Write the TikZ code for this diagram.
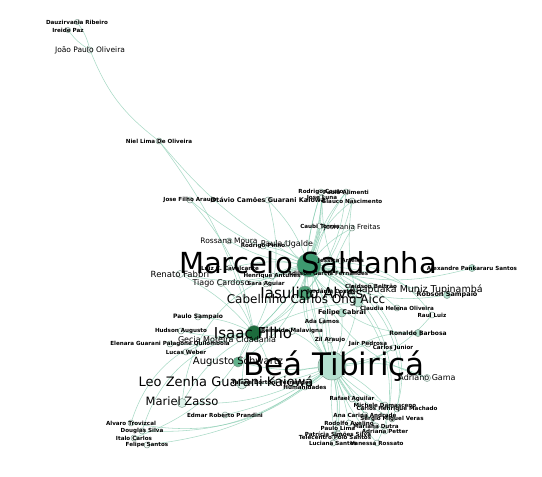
\documentclass[tikz,border=0pt]{standalone}
\usepackage{fontspec}
\setmainfont{DejaVu Sans}
\definecolor{edgegreen}{RGB}{132,202,174}
\definecolor{hubgreen}{RGB}{62,154,112}
\definecolor{darkhub}{RGB}{28,108,60}
\definecolor{midgreen}{RGB}{78,162,120}
\definecolor{softgreen}{RGB}{98,178,140}
\definecolor{mint}{RGB}{180,224,207}
\definecolor{palemint}{RGB}{222,242,234}
\definecolor{dotfill}{RGB}{246,251,249}
\definecolor{rim}{RGB}{125,155,142}
\pgfdeclarelayer{edges}
\pgfdeclarelayer{labels}
\pgfsetlayers{edges,main,labels}

\begin{document}
\begin{tikzpicture}[x=1pt, y=-1pt,
  dot/.style={circle, draw=rim, line width=0.5pt, fill=#1, inner sep=0pt},
  tag/.style={font=\fontsize{#1}{#1}\selectfont\ifdim#1pt<7pt\bfseries\fi, inner sep=0pt},
  link/.style={draw=edgegreen, line width=0.55pt, opacity=0.7}]

\useasboundingbox (0,0) rectangle (542,477);

% People, circle and name at the same spot
\foreach \id/\x/\y/\d/\c/\fs/\txt in {
  dauz/77/22/5/dotfill/5.6/Dauzirvania Ribeiro,
  ireide/68/30/5/dotfill/5.6/Ireide Paz,
  joao/90/50/6/dotfill/7.5/João Paulo Oliveira,
  niel/159/141/6/dotfill/5.6/Niel Lima De Oliveira,
  josef/190/200/6/dotfill/5.6/Jose Filho Araujo,
  otavio/268/200/6/dotfill/6.5/Otávio Camões Guarani Kaiowá,
  rodrigo/321/192/6/dotfill/5.6/Rodrigo Couto,
  alimenti/346/192/6/dotfill/5.6/Paulo Alimenti,
  luna/322/198/6/dotfill/5.6/Jose Luna,
  nascim/352/201/6/dotfill/5.6/Glauco Nascimento,
  caubi/320/226/6/dotfill/5.6/Caubi Torres,
  josivania/352/228/6/dotfill/7/Josivania Freitas,
  rossana/229/241/6/dotfill/7.5/Rossana Moura,
  rpinho/263/246/6/dotfill/5.6/Rodrigo Pinho,
  ugalde/287/244/6/dotfill/8/Paula Ugalde,
  cavalc/230/268/6/dotfill/5.6/Luiz C. Cavalcante,
  alexandre/472/268/7/mint/5.6/Alexandre Pankararu Santos,
  renato/180/274/7/dotfill/8.5/Renato Fabbri,
  henrique/272/276/6/dotfill/5.6/Henrique Antunes,
  adilson/328/273/6/dotfill/5.6/Adilson Garcia Fernandes,
  jessica/341/261/6/dotfill/5.6/Jessica Arteles,
  tiago/221/283/7/dotfill/8/Tiago Cardoso,
  sara/266/284/6/dotfill/5.6/Sara Aguiar,
  cleidson/371/286/6/dotfill/5.6/Cleidson Beltrão,
  anapuaka/416/290/7/dotfill/9.5/Anapuaka Muniz Tupinambá,
  robson/447/295/7/mint/6.5/Robson Sampaio,
  jordania/330/292/6/dotfill/5.6/Jordânia Costa,
  claudia/397/308/6/dotfill/5.6/Claudia Helena Oliveira,
  raul/432/315/6/dotfill/5.6/Raul Luiz,
  felipec/342/313/8/mint/6.5/Felipe Cabral,
  ada/322/321/6/dotfill/5.6/Ada Lamos,
  ronaldo/418/333/7/mint/6/Ronaldo Barbosa,
  paulos/198/317/6/dotfill/6/Paulo Sampaio,
  hudson/181/331/6/dotfill/5.6/Hudson Augusto,
  reinaldo/292/331/7/dotfill/5.6/Reinaldo Malavigna,
  gecia/227/340/6/dotfill/8/Gecia Moreira Cidadania,
  elenara/170/344/6/dotfill/5.6/Elenara Guarani Palagone Quilombola,
  lucas/186/352/6/dotfill/5.6/Lucas Weber,
  zil/330/340/6/dotfill/5.6/Zil Araujo,
  jair/368/344/6/dotfill/5.6/Jair Pedrosa,
  carlosj/393/348/6/dotfill/5.6/Carlos Junior,
  adriano/427/378/7/dotfill/8/Adriano Gama,
  taiane/272/382/6/dotfill/5.6/Taiane Bortoni Fernandes,
  humanid/305/387/6/dotfill/5.6/Humanidades,
  edmar/225/415/6/dotfill/5.6/Edmar Roberto Prandini,
  rafael/352/399/6/dotfill/5.6/Rafael Aguilar,
  michele/385/405/6/dotfill/5.6/Michele Damasceno,
  carlosh/397/409/6/dotfill/5.6/Carlos Henrique Machado,
  ana/365/415/6/dotfill/5.6/Ana Carina Andrade,
  sergio/392/419/6/dotfill/5.6/Sérgio Miguel Veras,
  rodolfo/349/423/6/dotfill/5.6/Rodolfo Avelino,
  mariana/376/426/6/dotfill/5.6/Mariana Dutra,
  paulol/338/428/6/dotfill/5.6/Paulo Lima,
  petter/385/431/6/dotfill/5.6/Adriana Petter,
  patricia/338/434/6/dotfill/5.6/Patrícia Simões Silva,
  telec/335/437/6/dotfill/5.6/Telecentro Polo Santos,
  luciana/333/443/6/dotfill/5.6/Luciana Santos,
  rossato/377/443/6/dotfill/5.6/Vanessa Rossato,
  alvaro/131/423/6/dotfill/5.6/Alvaro Trovizcal,
  douglas/142/431/6/dotfill/5.6/Douglas Silva,
  italo/134/438/6/dotfill/5.6/Italo Carlos,
  felipes/147/445/6/dotfill/5.6/Felipe Santos}
{
  \node[dot=\c, minimum size=\d pt] (\id) at (\x,\y) {};
  \begin{pgfonlayer}{labels}
    \node[tag=\fs] (\id-t) at (\x,\y) {\txt};
  \end{pgfonlayer}
}

% Hubs
\node[dot=hubgreen, minimum size=24pt] (marcelo) at (309,265) {};
\node[dot=mint, minimum size=28pt] (bea) at (332,366) {};
\node[dot=darkhub, minimum size=15pt] (isaac) at (254,333) {};
\node[dot=midgreen, minimum size=14pt] (iasulino) at (305,293) {};
\node[dot=mint, minimum size=10pt] (cabelinho) at (358,302) {};
\node[dot=softgreen, minimum size=10pt] (augusto) at (238,362) {};
\node[dot=palemint, minimum size=10pt] (leo) at (242,384) {};
\node[dot=palemint, minimum size=9pt] (mariel) at (182,403) {};
\begin{pgfonlayer}{labels}
  \node[tag=29] (marcelo-t) at (308,263) {Marcelo Saldanha};
  \node[tag=31] (bea-t) at (334,366) {Beá Tibiriçá};
  \node[tag=15] (isaac-t) at (253,333) {Isaac Filho};
  \node[tag=15] (iasulino-t) at (312,293) {Iasulino Alves};
  \node[tag=12] (cabelinho-t) at (306,300) {Cabelinho Carlos Ong Aicc};
  \node[tag=10] (augusto-t) at (238,362) {Augusto Schwartz};
  \node[tag=13] (leo-t) at (226,381) {Leo Zenha Guarani Kaiowá};
  \node[tag=11.5] (mariel-t) at (182,401) {Mariel Zasso};
\end{pgfonlayer}

% Connections
\begin{pgfonlayer}{edges}
\foreach \a/\b/\k in {
  dauz/joao/10, ireide/joao/-10, joao/niel/-15, niel/isaac/10, niel/marcelo/-10,
  josef/isaac/15, josef/marcelo/-10, otavio/marcelo/10, otavio/isaac/20,
  rodrigo/marcelo/10, alimenti/marcelo/-10, luna/marcelo/5, nascim/marcelo/-15,
  caubi/marcelo/10, josivania/marcelo/-10, rodrigo/bea/-20, alimenti/iasulino/15,
  nascim/cabelinho/-10, luna/isaac/20, caubi/isaac/15, josivania/bea/-20,
  rodrigo/iasulino/-8, luna/cabelinho/-18, nascim/iasulino/12, alimenti/bea/-28,
  rossana/marcelo/-10, rpinho/marcelo/10, ugalde/marcelo/-10, cavalc/marcelo/10,
  renato/marcelo/-15, renato/isaac/10, henrique/marcelo/10, adilson/marcelo/-10,
  jessica/marcelo/10, tiago/marcelo/-10, tiago/isaac/10, sara/marcelo/10,
  cleidson/marcelo/-10, jordania/marcelo/10, iasulino/marcelo/10, cabelinho/marcelo/-15,
  isaac/marcelo/-20, bea/marcelo/25, bea/marcelo/-10, alexandre/marcelo/15,
  anapuaka/marcelo/-10, robson/marcelo/20, claudia/marcelo/-15, raul/bea/20,
  ronaldo/bea/-20, ronaldo/marcelo/30, raul/marcelo/-30, felipec/bea/10, ada/bea/-10,
  zil/bea/10, jair/bea/-10, carlosj/bea/15, adriano/bea/-15, adriano/marcelo/25,
  marcelo/carlosh/40, marcelo/sergio/50, marcelo/petter/35, marcelo/rossato/45,
  paulos/isaac/10, hudson/isaac/-10, gecia/isaac/10, elenara/isaac/-10, lucas/isaac/10,
  reinaldo/isaac/-10, reinaldo/bea/10, augusto/bea/-10, augusto/isaac/10,
  augusto/marcelo/-20, leo/bea/-10, leo/isaac/10, mariel/bea/-15, mariel/isaac/15,
  edmar/bea/-10, taiane/bea/10, humanid/bea/-10, taiane/isaac/-10,
  alvaro/bea/-25, douglas/bea/-20, italo/isaac/-20, felipes/bea/-15, isaac/alvaro/-35,
  isaac/douglas/-30, marcelo/mariel/-35,
  rafael/bea/5, michele/bea/-10, carlosh/bea/10, ana/bea/-5, sergio/bea/10,
  rodolfo/bea/-5, mariana/bea/5, paulol/bea/-10, petter/bea/10, patricia/bea/-5,
  telec/bea/5, luciana/bea/-10, rossato/bea/10,
  iasulino/bea/-15, cabelinho/bea/10, iasulino/isaac/10, cabelinho/isaac/-10}
  \draw[link] (\a) to[bend left=\k] (\b);
\end{pgfonlayer}

\end{tikzpicture}
\end{document}
